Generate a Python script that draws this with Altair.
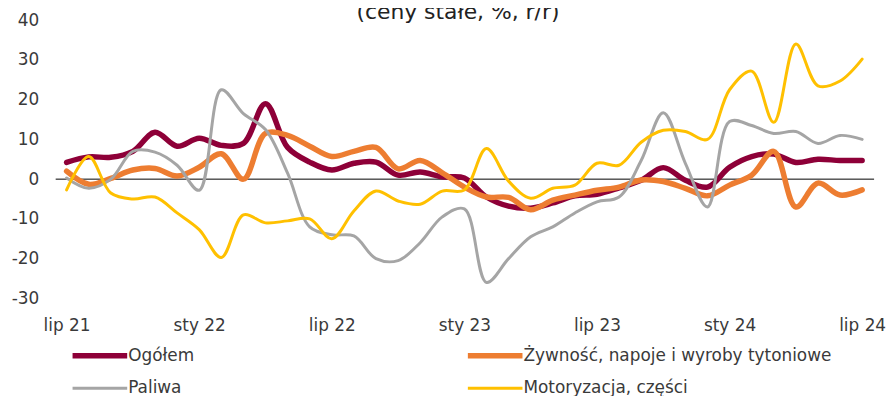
import json
import altair as alt
import pandas as pd

# ---- data ----
series_names = ["Ogółem", "Żywność, napoje i wyroby tytoniowe", "Paliwa", "Motoryzacja, części"]
series_colors = ["#8E0038", "#ED7D31", "#A5A5A5", "#FFC000"]
series_widths = [5.5, 5.5, 3, 3]

month_index = list(range(37))  # lip 21 ... lip 24 (monthly)
tick_positions = [0, 6, 12, 18, 24, 30, 36]
tick_labels = ["lip 21", "sty 22", "lip 22", "sty 23", "lip 23", "sty 24", "lip 24"]
y_ticks = [-30, -20, -10, 0, 10, 20, 30, 40]

ogolem = [4.2, 5.6, 5.5, 7.0, 11.8, 8.3, 10.3, 8.5, 9.0, 19.0, 8.0, 4.3, 2.3, 4.0, 4.3, 1.0,
          1.8, 0.6, 0.3, -4.5, -6.8, -7.3, -6.0, -4.2, -3.8, -2.2, -0.3, 2.9, -0.3, -2.0,
          3.0, 5.7, 6.3, 4.2, 5.0, 4.7, 4.7]
zywnosc = [2.0, -1.3, 0.2, 2.3, 2.7, 0.8, 3.0, 6.4, 0.0, 11.5, 11.0, 8.3, 5.7, 7.0, 8.0, 2.6,
           4.7, 1.6, -2.0, -4.5, -4.6, -7.7, -5.3, -4.0, -2.8, -2.0, -0.2, -0.6, -2.3, -4.2,
           -1.5, 1.0, 7.0, -7.0, -1.0, -4.0, -2.7]
paliwa = [0.3, -2.3, 0.0, 7.0, 6.8, 3.5, -2.8, 22.5, 16.5, 12.5, 1.5, -12.0, -14.0, -14.3, -20.0,
          -20.5, -16.0, -9.5, -7.5, -26.0, -20.0, -14.5, -12.0, -8.5, -5.7, -4.5, 4.7, 16.7, 4.0,
          -7.0, 14.5, 13.5, 11.5, 12.0, 9.0, 11.0, 10.0]
motoryzacja = [-2.7, 5.7, -3.5, -5.0, -4.5, -8.5, -12.7, -19.7, -9.0, -11.0, -10.5, -10.0, -15.0,
               -8.0, -3.0, -5.5, -6.3, -3.0, -2.7, 7.7, -0.5, -4.8, -2.3, -1.5, 4.0, 3.5, 9.3,
               12.3, 12.0, 10.0, 22.5, 27.2, 14.3, 34.0, 23.5, 24.7, 30.2]

title_text = "(ceny stałe, %, r/r)"

# ---- table ----
rows = []
for name, vals in zip(series_names, [ogolem, zywnosc, paliwa, motoryzacja]):
    for i, v in zip(month_index, vals):
        rows.append({"idx": i, "value": v, "series": name})
df = pd.DataFrame(rows)

FONT = "DejaVu Sans"
TXT = "#3a3a3a"

label_expr = json.dumps(tick_labels) + "[round(datum.value / 6)]"

x_axis = alt.Axis(values=tick_positions, labelExpr=label_expr, domain=False, ticks=False,
                  grid=False, labelPadding=19, labelFontSize=17, labelFont=FONT,
                  labelColor=TXT, title=None, labelOverlap=False)
y_axis = alt.Axis(values=y_ticks, domain=False, ticks=False, grid=False,
                  labelExpr="'' + datum.value",
                  labelPadding=17, labelFontSize=17, labelFont=FONT, labelColor=TXT,
                  title=None, labelOverlap=False)
x_scale = alt.Scale(domain=[-0.494, 36.54], nice=False, zero=False)
y_scale = alt.Scale(domain=[-30, 40], nice=False, zero=False)

zero_df = pd.DataFrame({"z": [0]})
zero_line = alt.Chart(zero_df).mark_rule(color="black", strokeWidth=1).encode(
    y=alt.YDatum(0, scale=y_scale, axis=y_axis)
)

lines = alt.Chart(df).mark_line(interpolate="catmull-rom", strokeCap="round",
                                strokeJoin="round").encode(
    x=alt.X("idx:Q", scale=x_scale, axis=x_axis),
    y=alt.Y("value:Q", scale=y_scale, axis=y_axis),
    color=alt.Color(
        "series:N",
        sort=series_names,
        scale=alt.Scale(domain=series_names, range=series_colors),
        legend=alt.Legend(
            orient="none", legendX=14, legendY=329, columns=2, direction="horizontal",
            title=None, symbolType="M-1,0H9", symbolSize=121, symbolStrokeWidth=5,
            labelFontSize=17, labelFont=FONT, labelColor=TXT, labelLimit=500,
            labelOffset=42, columnPadding=264, rowPadding=12,
        ),
    ),
    strokeWidth=alt.StrokeWidth(
        "series:N",
        sort=series_names,
        scale=alt.Scale(type="ordinal", domain=series_names, range=series_widths),
        legend=None,
    ),
)

title_df = pd.DataFrame({"t": [title_text]})
title = alt.Chart(title_df).mark_text(
    font=FONT, fontSize=22, color="#222222", baseline="alphabetic", align="center"
).encode(text="t:N", x=alt.value(405), y=alt.value(-1))

chart = alt.layer(zero_line, lines, title).properties(
    width=824,
    height=280,
    autosize=alt.AutoSizeParams(type="none"),
    padding={"left": 48, "top": 11, "right": 12, "bottom": 97},
).configure(background="white").configure_view(stroke=None).configure_axis(labelOverlap=False)

chart.save("out.html", embed_options={"renderer": "svg", "actions": False})
